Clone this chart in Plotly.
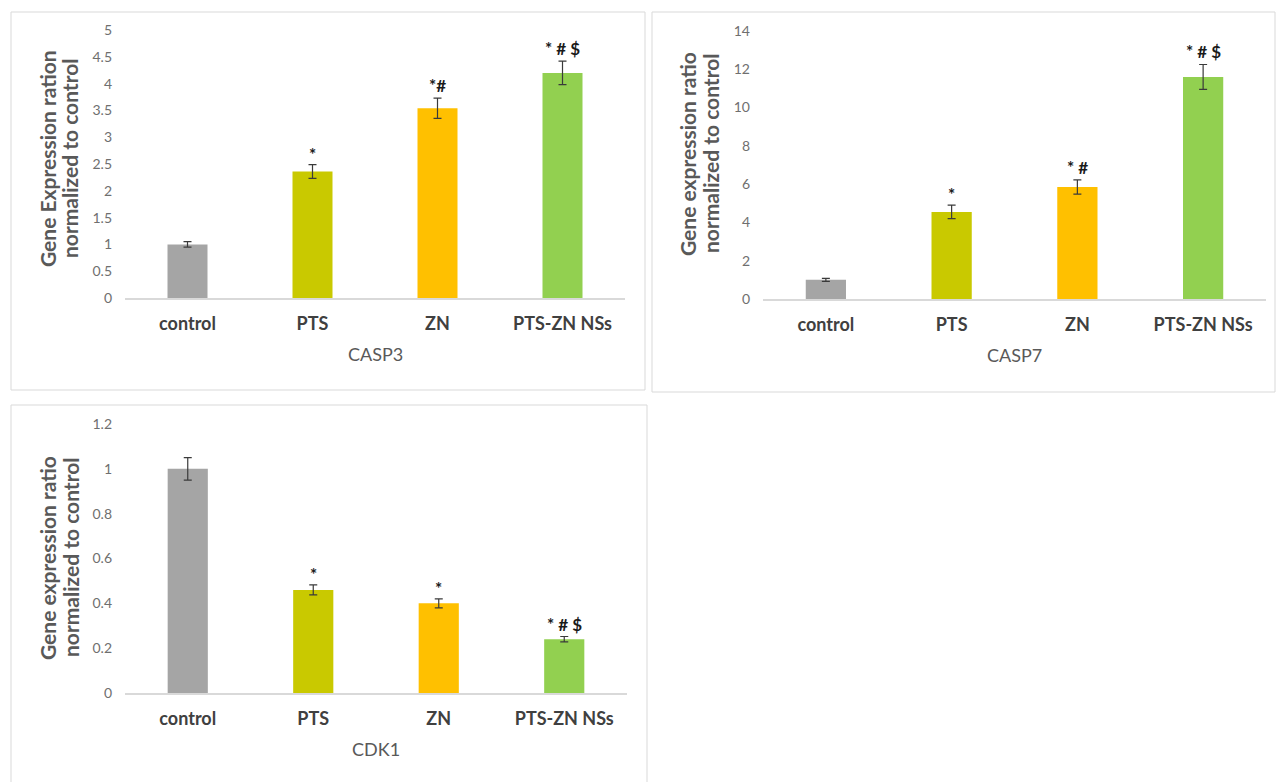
import plotly.graph_objects as go

# Gene expression ratios (normalized to control), mean and error per group
categories = ["control", "PTS", "ZN", "PTS-ZN NSs"]
bar_colors = ["#a5a5a5", "#c9c900", "#ffc000", "#92d050"]

casp3_mean = [1.0, 2.36, 3.54, 4.2]
casp3_err = [0.05, 0.13, 0.19, 0.22]
casp3_sig = ["", "*", "*#", "* # $"]

casp7_mean = [1.0, 4.55, 5.85, 11.6]
casp7_err = [0.08, 0.35, 0.37, 0.65]
casp7_sig = ["", "*", "* #", "* # $"]

cdk1_mean = [1.0, 0.46, 0.40, 0.24]
cdk1_err = [0.05, 0.022, 0.02, 0.012]
cdk1_sig = ["", "*", "*", "* # $"]

W, H = 1276, 782
FONT = "Lato"
TITLE_GRAY = "#595959"
TICK_GRAY = "#6f6f6f"


def px_x(x):
    return x / W


def px_y(y):
    return 1 - y / H


panels = [
    dict(mean=casp3_mean, err=casp3_err, sig=casp3_sig, gene="CASP3",
         ytitle=["Gene Expression ration", "normalized to control"],
         x0=125, x1=625, y0=298, y1=30, yrange=[0, 5], dtick=0.5,
         box=(11, 12, 645, 390), ytitle_x=(47, 69), ytitle_y=159),
    dict(mean=casp7_mean, err=casp7_err, sig=casp7_sig, gene="CASP7",
         ytitle=["Gene expression ratio", "normalized to control"],
         x0=763, x1=1266, y0=299, y1=31, yrange=[0, 14], dtick=2,
         box=(652, 12, 1275, 392), ytitle_x=(688, 711), ytitle_y=154),
    dict(mean=cdk1_mean, err=cdk1_err, sig=cdk1_sig, gene="CDK1",
         ytitle=["Gene expression ratio", "normalized to control"],
         x0=125, x1=627, y0=693, y1=424, yrange=[0, 1.2], dtick=0.2,
         box=(11, 405, 647, 786), ytitle_x=(47, 70), ytitle_y=558),
]

fig = go.Figure()
annotations = []
shapes = []

for i, p in enumerate(panels, start=1):
    xa = "x" if i == 1 else f"x{i}"
    ya = "y" if i == 1 else f"y{i}"
    fig.add_trace(go.Bar(
        x=categories, y=p["mean"], xaxis=xa, yaxis=ya,
        marker=dict(color=bar_colors, line=dict(width=0)),
        error_y=dict(type="data", array=p["err"], visible=True,
                     color="#3a3a3a", thickness=1.2, width=4),
        showlegend=False, hoverinfo="skip",
    ))

    # significance markers above each error bar
    for cat, m, e, s in zip(categories, p["mean"], p["err"], p["sig"]):
        if s:
            annotations.append(dict(
                x=cat, y=m + e, xref=xa, yref=ya, text=f"<b>{s}</b>",
                showarrow=False, yanchor="bottom",
                yshift=-2 if s == "*" else 0,
                font=dict(family=FONT, size=17, color="#1a1a1a"),
            ))

    # gene name below the category labels
    annotations.append(dict(
        x=px_x((p["x0"] + p["x1"]) / 2), y=px_y(p["y0"] + 56),
        xref="paper", yref="paper", text=p["gene"], showarrow=False,
        font=dict(family=FONT, size=18, color=TITLE_GRAY),
        xanchor="center", yanchor="middle",
    ))

    # rotated y-axis title, one annotation per line
    for line_text, lx in zip(p["ytitle"], p["ytitle_x"]):
        annotations.append(dict(
            x=px_x(lx), y=px_y(p["ytitle_y"]),
            xref="paper", yref="paper", text=f"<b>{line_text}</b>",
            showarrow=False, textangle=-90,
            font=dict(family=FONT, size=21, color=TITLE_GRAY),
            xanchor="center", yanchor="middle",
        ))

    bx0, by0, bx1, by1 = p["box"]
    shapes.append(dict(
        type="rect", xref="paper", yref="paper",
        x0=px_x(bx0), x1=px_x(bx1), y0=px_y(by1), y1=px_y(by0),
        line=dict(color="#d9d9d9", width=1), fillcolor="rgba(0,0,0,0)",
        layer="below",
    ))

    xaxis_cfg = dict(
        domain=[px_x(p["x0"]), px_x(p["x1"])], anchor=ya,
        showline=True, linecolor="#d9d9d9", linewidth=1.5,
        showgrid=False, ticks="", ticklabelstandoff=9, automargin=False,
        tickfont=dict(family=FONT, size=18, color="#404040", weight="bold"),
        fixedrange=True,
    )
    yaxis_cfg = dict(
        domain=[px_y(p["y0"]), px_y(p["y1"])], anchor=xa,
        range=p["yrange"], dtick=p["dtick"], tick0=0,
        showline=False, showgrid=False, zeroline=False, ticks="",
        ticklabelstandoff=12, automargin=False,
        tickfont=dict(family=FONT, size=14, color=TICK_GRAY),
        fixedrange=True,
    )
    fig.update_layout({
        ("xaxis" if i == 1 else f"xaxis{i}"): xaxis_cfg,
        ("yaxis" if i == 1 else f"yaxis{i}"): yaxis_cfg,
    })

fig.update_layout(
    width=W, height=H,
    margin=dict(l=0, r=0, t=0, b=0, pad=0, autoexpand=False),
    paper_bgcolor="white", plot_bgcolor="white",
    bargap=0.68, annotations=annotations, shapes=shapes,
    font=dict(family=FONT),
)

fig.write_html("out.html", config={"displayModeBar": False})

# pin the page to exactly the figure size
with open("out.html", encoding="utf-8") as fh:
    page = fh.read()
page = page.replace(
    "<head>",
    "<head><style>html,body{margin:0;padding:0;width:1276px;height:782px;"
    "overflow:hidden;}body>div{height:782px;overflow:hidden;}</style>",
    1,
)
with open("out.html", "w", encoding="utf-8") as fh:
    fh.write(page)
